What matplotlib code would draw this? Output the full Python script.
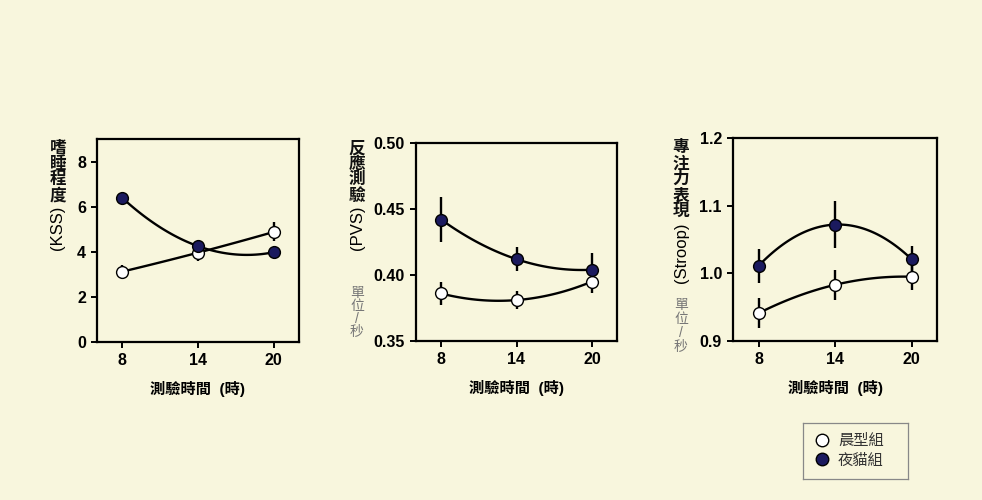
import numpy as np
import matplotlib
matplotlib.use('Agg')
import matplotlib.pyplot as plt
from matplotlib.lines import Line2D

plt.rcParams['font.family'] = ['Liberation Sans', 'Noto Sans CJK TC', 'DejaVu Sans']

# data
hours = [8, 14, 20]
groups = ['晨型組', '夜貓組']

kss_morning = [3.12, 3.96, 4.88]
kss_morning_err = [0.30, 0.38, 0.42]
kss_night = [6.39, 4.25, 3.98]
kss_night_err = [0.18, 0.20, 0.22]

pvs_morning = [0.386, 0.381, 0.395]
pvs_morning_err = [0.009, 0.007, 0.009]
pvs_night = [0.442, 0.412, 0.404]
pvs_night_err = [0.017, 0.009, 0.013]

stroop_morning = [0.941, 0.983, 0.995]
stroop_morning_err = [0.022, 0.022, 0.020]
stroop_night = [1.011, 1.072, 1.021]
stroop_night_err = [0.025, 0.035, 0.019]

bg = '#f8f6dd'
navy = '#1b1a5e'
W, H = 982, 500

fig = plt.figure(figsize=(9.82, 5.0), dpi=100, facecolor=bg)


def box(l, t, r, b):
    return [l / W, 1 - b / H, (r - l) / W, (b - t) / H]


def panel(rect, yvals, yerrs, ylim, yticks, yfmt):
    ax = fig.add_axes(rect)
    ax.set_facecolor(bg)
    xs = np.linspace(hours[0], hours[-1], 100)
    for vals, errs, fc in zip(yvals, yerrs, ['white', navy]):
        c = np.polyfit(hours, vals, 2)
        ax.plot(xs, np.polyval(c, xs), color='black', lw=1.7, zorder=2)
        ax.errorbar(hours, vals, yerr=errs, fmt='none', ecolor='black',
                    elinewidth=1.7, capsize=0, zorder=3)
        ax.plot(hours, vals, 'o', ms=8.5, mfc=fc, mec='black', mew=1, zorder=4)
    ax.set_xlim(6, 22)
    ax.set_ylim(*ylim)
    ax.set_xticks(hours)
    ax.set_yticks(yticks)
    ax.set_yticklabels([yfmt.format(v) for v in yticks])
    for s in ax.spines.values():
        s.set_linewidth(1.6)
    ax.tick_params(direction='out', length=4, width=1.4, labelsize=11.5, pad=4)
    for lab in ax.get_xticklabels() + ax.get_yticklabels():
        lab.set_fontweight('bold')
    ax.set_xlabel('測驗時間  (時)', fontsize=11, fontweight='bold', labelpad=9)
    return ax


def vstack(x, ytop, text, step, **kw):
    for i, ch in enumerate(text):
        fig.text(x / W, 1 - (ytop + step * i) / H, ch, ha='center', va='top', **kw)


ax1 = panel(box(97, 139, 299, 342), [kss_morning, kss_night],
            [kss_morning_err, kss_night_err], (0, 9), [0, 2, 4, 6, 8], '{:g}')
ax2 = panel(box(416, 143, 617, 341), [pvs_morning, pvs_night],
            [pvs_morning_err, pvs_night_err], (0.35, 0.50), [0.35, 0.40, 0.45, 0.50], '{:.2f}')
ax3 = panel(box(733, 138, 937, 341), [stroop_morning, stroop_night],
            [stroop_morning_err, stroop_night_err], (0.9, 1.2), [0.9, 1.0, 1.1, 1.2], '{:.1f}')

# y labels
lab_kw = dict(fontsize=12, fontweight='bold', color='#111111')
vstack(58, 141, '嗜睡程度', 15.5, **lab_kw)
fig.text(58 / W, 1 - 228 / H, '(KSS)', rotation=90, ha='center', va='center', fontsize=12)

vstack(357, 141, '反應測驗', 15.5, **lab_kw)
fig.text(357 / W, 1 - 228 / H, '(PVS)', rotation=90, ha='center', va='center', fontsize=12)
vstack(357, 286, '單位/秒', 13, fontsize=10, color='#777777')

vstack(681, 140, '專注力表現', 16, **lab_kw)
fig.text(681 / W, 1 - 253 / H, '(Stroop)', rotation=90, ha='center', va='center', fontsize=12)
vstack(681, 298, '單位/秒', 14, fontsize=10, color='#777777')

# legend
lax = fig.add_axes(box(803, 423, 908, 479))
lax.set_facecolor(bg)
lax.set_xticks([])
lax.set_yticks([])
for s in lax.spines.values():
    s.set_linewidth(0.9)
    s.set_color('#888888')
handles = [Line2D([], [], ls='none', marker='o', ms=9, mfc=fc, mec='black', mew=1)
           for fc in ['white', navy]]
lax.legend(handles, groups, loc='center left', frameon=False, fontsize=11,
           handletextpad=0.4, labelspacing=0.35, borderaxespad=0.2, handlelength=1.3,
           labelcolor='#333333')

fig.savefig('out.png', dpi=100, facecolor=bg)
